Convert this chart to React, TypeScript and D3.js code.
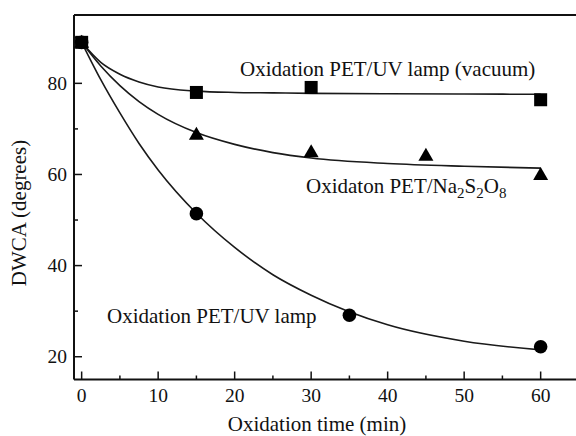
import React, { useEffect, useRef } from "react";
import * as d3 from "d3";

// measured points (oxidation time in min, DWCA in degrees)
const timeVacuum = [0, 15, 30, 60];
const dwcaVacuum = [89, 78.0, 79.1, 76.4];
const timeNa = [0, 15, 30, 45, 60];
const dwcaNa = [89, 68.8, 65.0, 64.2, 60.0];
const timeUV = [0, 15, 35, 60];
const dwcaUV = [89, 51.4, 29.1, 22.2];

// fitted curves
const fitTime = [0, 2.5, 5, 7.5, 10, 15, 20, 25, 30, 40, 50, 60];
const fitVacuum = [89, 84.6, 82.0, 80.3, 79.2, 78.3, 78.0, 77.9, 77.8, 77.7, 77.65, 77.6];
const fitNa = [89, 83.8, 79.5, 76.0, 73.2, 69.2, 66.6, 64.8, 63.6, 62.4, 61.8, 61.4];
const fitUV = [89, 80.8, 73.5, 66.8, 61.0, 51.5, 44.0, 38.0, 33.5, 27.0, 23.4, 21.5];

const xTicks = [0, 5, 10, 15, 20, 25, 30, 35, 40, 45, 50, 55, 60];
const xLabels = [0, 10, 20, 30, 40, 50, 60];
const yTicks = [20, 30, 40, 50, 60, 70, 80, 90];
const yLabels = [20, 40, 60, 80];

const W = 576, H = 436;

export default function App() {
  const ref = useRef<SVGSVGElement>(null);

  useEffect(() => {
    const svg = d3.select(ref.current);
    svg.selectAll("*").remove();

    const x = d3.scaleLinear().domain([-1, 64.62]).range([74, 576]);
    const y = d3.scaleLinear().domain([15, 95]).range([379.5, 15]);
    const left = x(-1), bottom = y(15), top = y(95);

    const g = svg.append("g")
      .style("font-family", '"Liberation Serif", "DejaVu Serif", serif')
      .style("fill", "#111");

    // frame (right side is cut off in the original)
    g.append("line").attr("x1", left).attr("x2", W).attr("y1", top).attr("y2", top)
      .attr("stroke", "#111").attr("stroke-width", 2);
    g.append("line").attr("x1", left).attr("x2", W).attr("y1", bottom).attr("y2", bottom)
      .attr("stroke", "#111").attr("stroke-width", 2);
    g.append("line").attr("x1", left).attr("x2", left).attr("y1", top).attr("y2", bottom)
      .attr("stroke", "#111").attr("stroke-width", 2);

    // ticks, pointing inward
    g.selectAll(".xt").data(xTicks).join("line").attr("class", "xt")
      .attr("x1", d => x(d)).attr("x2", d => x(d))
      .attr("y1", bottom).attr("y2", d => bottom - (d % 10 === 0 ? 8 : 4))
      .attr("stroke", "#111").attr("stroke-width", 1.5);
    g.selectAll(".yt").data(yTicks).join("line").attr("class", "yt")
      .attr("y1", d => y(d)).attr("y2", d => y(d))
      .attr("x1", left).attr("x2", d => left + (d % 20 === 0 ? 8 : 4))
      .attr("stroke", "#111").attr("stroke-width", 1.5);

    g.selectAll(".xl").data(xLabels).join("text").attr("class", "xl")
      .attr("x", d => x(d)).attr("y", 402).attr("text-anchor", "middle")
      .style("font-size", "19.5px")
      .text(d => d);
    g.selectAll(".yl").data(yLabels).join("text").attr("class", "yl")
      .attr("x", 67).attr("y", d => y(d) + 6.5).attr("text-anchor", "end")
      .style("font-size", "19.5px")
      .text(d => d);

    g.append("text").attr("x", 317).attr("y", 431).attr("text-anchor", "middle")
      .style("font-size", "21px")
      .text("Oxidation time (min)");
    g.append("text").attr("transform", `translate(26, 213) rotate(-90)`)
      .attr("text-anchor", "middle")
      .style("font-size", "21px")
      .text("DWCA (degrees)");

    // fit curves
    const line = d3.line<number>()
      .x((d, i) => x(fitTime[i]))
      .y(d => y(d))
      .curve(d3.curveMonotoneX);
    [fitVacuum, fitNa, fitUV].forEach(s => {
      g.append("path").attr("d", line(s)).style("fill", "none")
        .attr("stroke", "#1a1a1a").attr("stroke-width", 1.6);
    });

    // markers
    g.selectAll(".circ").data(dwcaUV).join("circle").attr("class", "circ")
      .attr("cx", (d, i) => x(timeUV[i])).attr("cy", d => y(d)).attr("r", 6.8)
      .style("fill", "#000");
    g.selectAll(".tri").data(dwcaNa).join("path").attr("class", "tri")
      .attr("d", "M0,-7.5L7.5,5.5L-7.5,5.5Z")
      .attr("transform", (d, i) => `translate(${x(timeNa[i])},${y(d)})`)
      .style("fill", "#000");
    g.selectAll(".sq").data(dwcaVacuum).join("rect").attr("class", "sq")
      .attr("x", (d, i) => x(timeVacuum[i]) - 6.5).attr("y", d => y(d) - 6.5)
      .attr("width", 13).attr("height", 13).style("fill", "#000");

    // series annotations
    g.append("text").attr("x", 240).attr("y", 76)
      .style("font-size", "21px")
      .text("Oxidation PET/UV lamp (vacuum)");
    const na = g.append("text").attr("x", 306).attr("y", 193)
      .style("font-size", "21px");
    na.append("tspan").text("Oxidaton PET/Na");
    na.append("tspan").style("font-size", "15px").attr("dy", 5).text("2");
    na.append("tspan").attr("dy", -5).text("S");
    na.append("tspan").style("font-size", "15px").attr("dy", 5).text("2");
    na.append("tspan").attr("dy", -5).text("O");
    na.append("tspan").style("font-size", "15px").attr("dy", 5).text("8");
    g.append("text").attr("x", 107).attr("y", 323)
      .style("font-size", "21px")
      .text("Oxidation PET/UV lamp");
  }, []);

  return (
    <svg ref={ref} width={W} height={H}
      style={{ position: "absolute", left: 0, top: 0, background: "#fff" }} />
  );
}
